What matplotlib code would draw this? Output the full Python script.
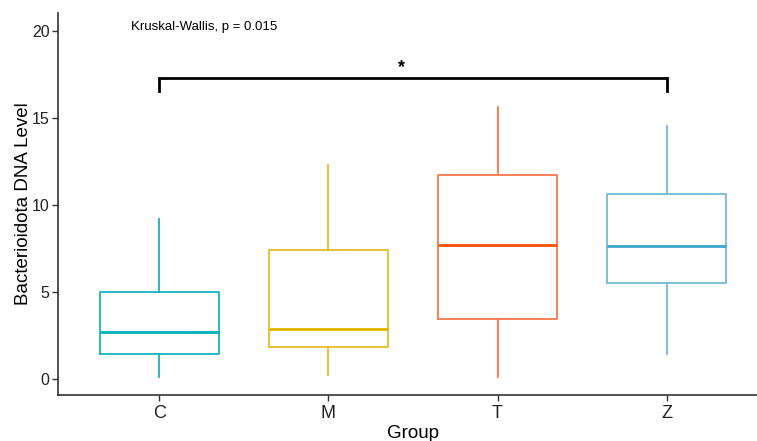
import matplotlib
matplotlib.use('Agg')
import matplotlib.pyplot as plt

plt.rcParams['font.family'] = ['Liberation Sans', 'DejaVu Sans']

# box statistics
groups = ['C', 'M', 'T', 'Z']
whislo = [0.10, 0.23, 0.13, 1.42]
q1 = [1.42, 1.82, 3.45, 5.50]
med = [2.70, 2.86, 7.70, 7.66]
q3 = [5.02, 7.41, 11.72, 10.65]
whishi = [9.18, 12.3, 15.65, 14.54]

box_colors = ['#14B4C0', '#E6BC2A', '#F8764A', '#72BAD7']
med_colors = ['#00AFBB', '#E3B500', '#FC4E07', '#3CA6CC']

kw_label = 'Kruskal-Wallis, p = 0.015'
sig_label = '*'
sig_y = 17.32
sig_tip = 16.57

fig = plt.figure(figsize=(7.57, 4.41), dpi=100)
ax = fig.add_axes([0.0766, 0.1043, 0.938, 0.8662])

for i, g in enumerate(groups):
    st = [dict(whislo=whislo[i], q1=q1[i], med=med[i], q3=q3[i],
               whishi=whishi[i], label=g)]
    ax.bxp(st, positions=[i + 1], widths=0.7, showfliers=False, showcaps=False,
           boxprops=dict(color=box_colors[i], linewidth=1.3),
           whiskerprops=dict(color=box_colors[i], linewidth=1.3),
           medianprops=dict(color=med_colors[i], linewidth=2.0))

# significance bracket C vs Z
ax.plot([1, 1, 4, 4], [sig_tip, sig_y, sig_y, sig_tip], color='black', lw=2.0,
        solid_joinstyle='miter', clip_on=False)
ax.text(2.43, sig_y + 0.1, sig_label, ha='center', va='bottom', fontsize=13,
        fontweight='bold')
ax.text(0.83, 20.2, kw_label, ha='left', va='center', fontsize=9.5)

ax.set_xlim(0.4, 4.6)
ax.set_ylim(-0.92, 21.03)
ax.set_xticks(range(1, 5))
ax.set_xticklabels(groups)
ax.set_yticks([0, 5, 10, 15, 20])
ax.tick_params(axis='both', labelsize=11.5, length=4, width=1.0, color='#333333',
               labelcolor='#222222')
ax.tick_params(axis='y', pad=2)
ax.tick_params(axis='x', labelsize=13)
ax.set_xlabel('Group', fontsize=13.5, labelpad=2)
ax.set_ylabel('Bacterioidota DNA Level', fontsize=13.5, labelpad=0)

for side in ['top', 'right']:
    ax.spines[side].set_visible(False)
for side in ['left', 'bottom']:
    ax.spines[side].set_linewidth(1.2)
    ax.spines[side].set_color('#333333')

fig.savefig('out.png', dpi=100)
